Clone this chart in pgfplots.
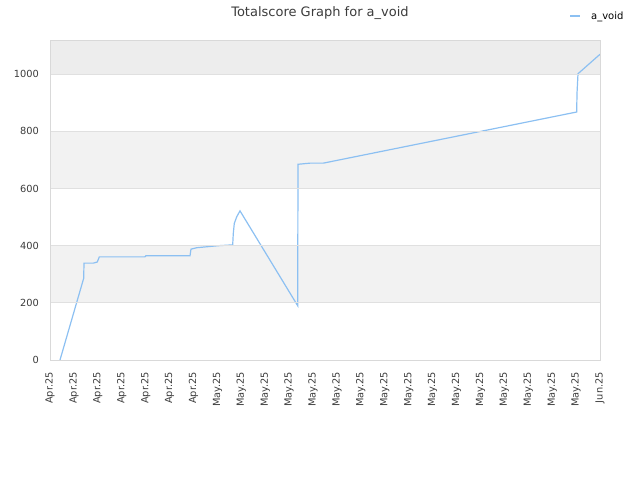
\documentclass[border=0pt]{standalone}
\usepackage{fontspec}
\setmainfont{DejaVu Sans}
\usepackage{pgfplots}
\pgfplotsset{compat=1.18}
\definecolor{lineblue}{RGB}{140,192,242}
\definecolor{txtgray}{RGB}{60,60,60}

\begin{document}
\begin{tikzpicture}
  \useasboundingbox (-50pt,-120pt) rectangle (590pt,360pt);
  \begin{axis}[
      at={(0pt,0pt)}, anchor=south west,
      scale only axis,
      width=550pt, height=320pt,
      xmin=0, xmax=23,
      ymin=0, ymax=1120,
      xtick={0,...,23},
      xticklabels={Apr.25,Apr.25,Apr.25,Apr.25,Apr.25,Apr.25,Apr.25,
        May.25,May.25,May.25,May.25,May.25,May.25,May.25,May.25,
        May.25,May.25,May.25,May.25,May.25,May.25,May.25,May.25,Jun.25},
      ytick={0,200,400,600,800,1000},
      major tick length=0pt,
      tick style={draw=none},
      axis on top,
      ymajorgrids,
      grid style={draw=black!12, line width=0.8pt},
      axis line style={draw=black!15, line width=0.8pt},
      /pgf/number format/assume math mode=true,
      /pgf/number format/1000 sep={},
      tick label style={font=\fontsize{9.8}{11}\selectfont, text=txtgray, inner sep=0pt},
      xticklabel style={rotate=90, anchor=east},
      yticklabel style={anchor=east},
      xticklabel shift=12pt,
      yticklabel shift=11pt,
      legend style={draw=none, fill=none, inner sep=0pt,
        at={(0.9436,1.075)}, anchor=west,
        nodes={inner sep=0pt, font=\fontsize{10}{12}\selectfont, text=black},
        /tikz/every odd column/.append style={column sep=10pt}},
      legend image code/.code={\draw[#1, line width=2pt] (0pt,0pt) -- (10pt,0pt);},
    ]

    % background bands
    \addplot[forget plot, draw=none, fill=black!5]
      coordinates {(0,200)(23,200)(23,400)(0,400)} -- cycle;
    \addplot[forget plot, draw=none, fill=black!5]
      coordinates {(0,600)(23,600)(23,800)(0,800)} -- cycle;
    \addplot[forget plot, draw=none, fill=black!7]
      coordinates {(0,1000)(23,1000)(23,1120)(0,1120)} -- cycle;

    \addplot[color=lineblue, line width=1.2pt, mark=none]
      coordinates {
      (0.418,0)(1.409,286)(1.422,339)(1.811,339)(1.978,343)(2.062,361)
      (3.973,361)(4.010,365)(5.855,365)(5.896,388)(6.135,393)(7.025,400)
      (7.640,403)(7.665,443)(7.707,478)(7.807,501)(7.945,522)
      (10.358,190)(10.371,685)(10.873,689)(11.429,689)
      (22.025,868)(22.038,932)(22.080,1002)(23,1070)
      };
    \addlegendentry{a\_void}
  \end{axis}
  \node[anchor=base, font=\fontsize{13}{15}\selectfont, text=txtgray, inner sep=0pt]
    at (270pt,343.3pt) {Totalscore Graph for a\_void};
\end{tikzpicture}
\end{document}
